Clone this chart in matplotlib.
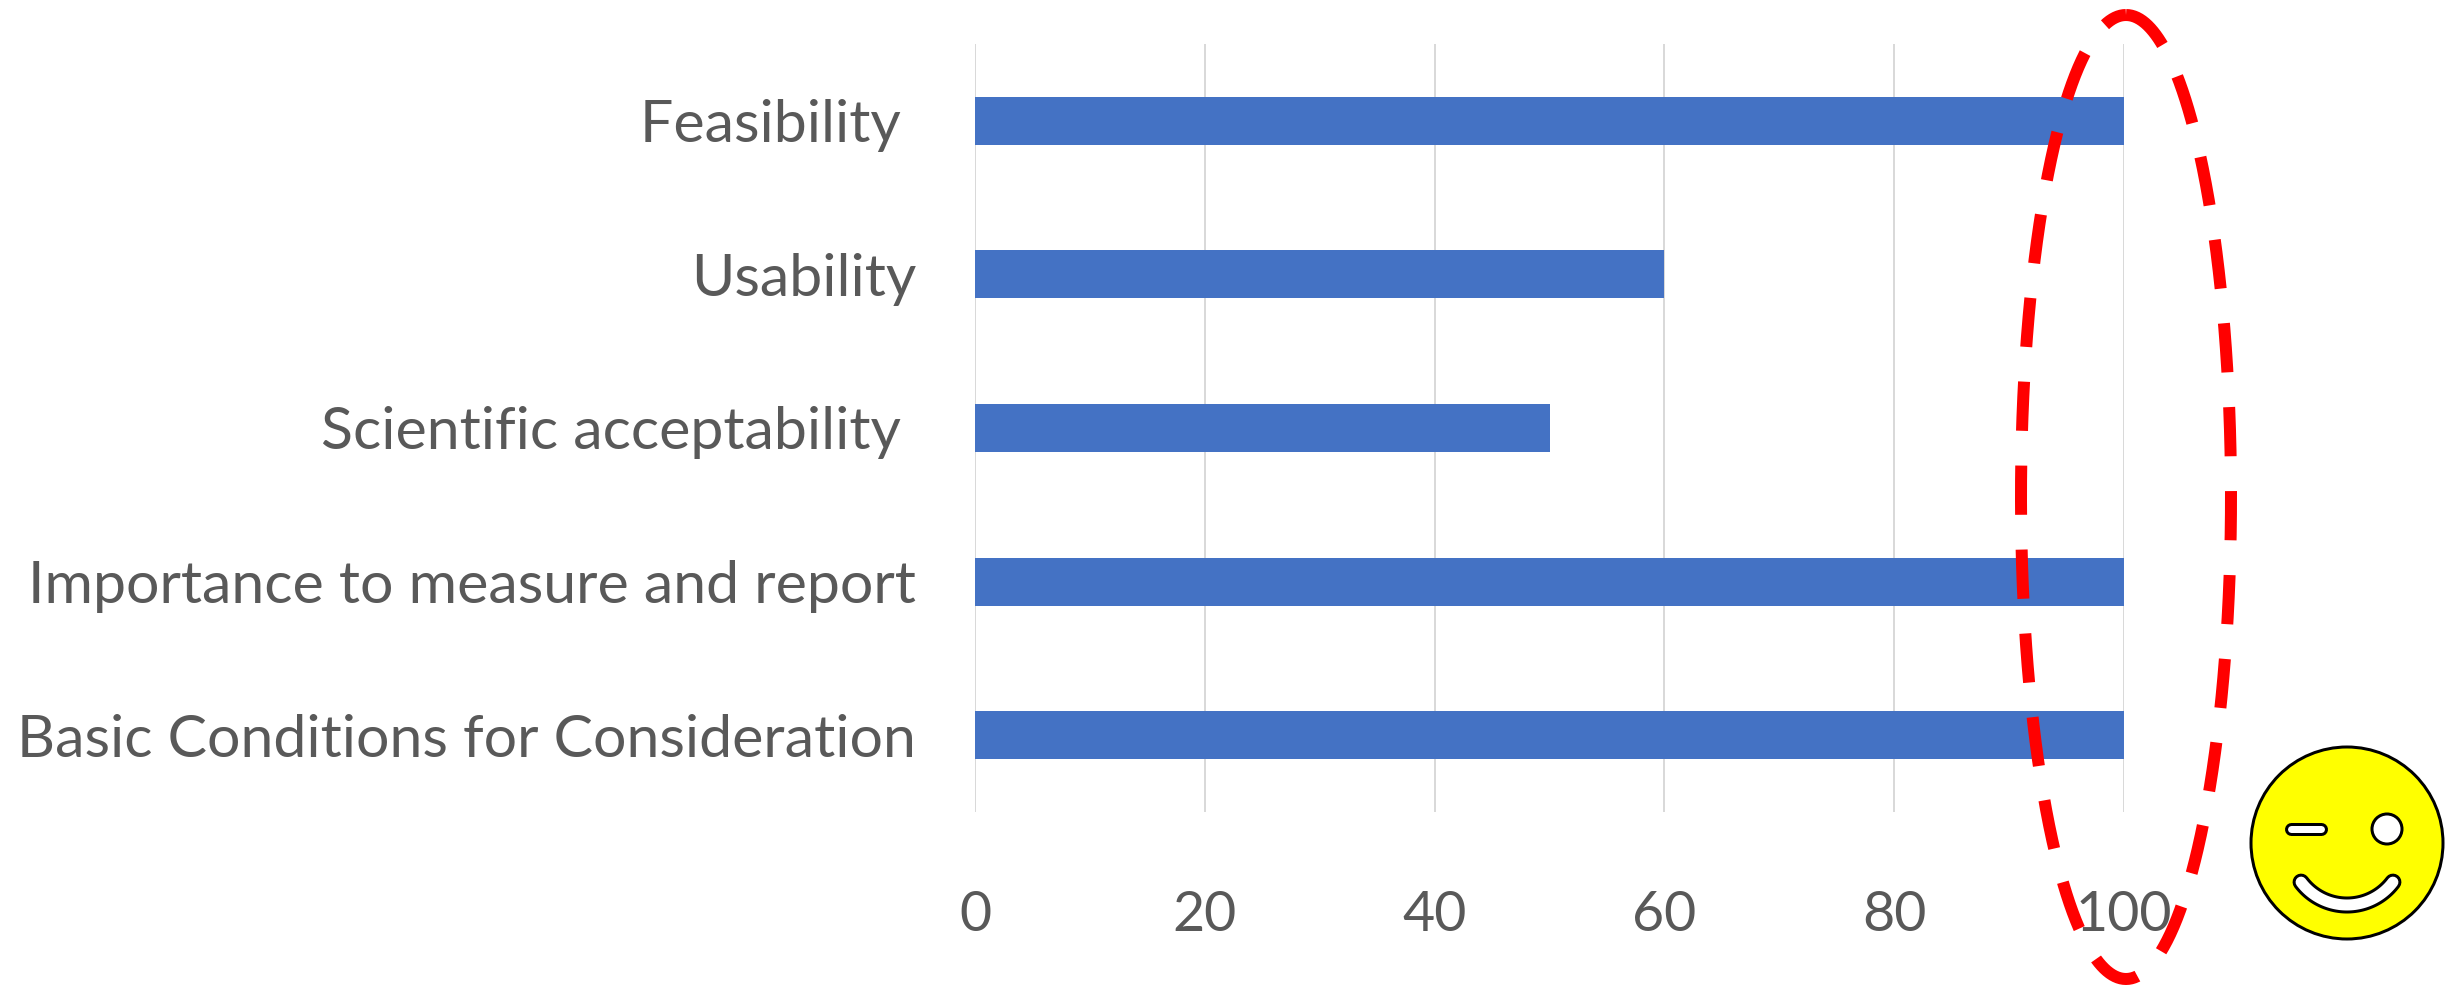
import matplotlib
matplotlib.use("Agg")
import matplotlib.pyplot as plt
from matplotlib.patches import Circle
import numpy as np

plt.rcParams["font.family"] = ["Lato", "DejaVu Sans"]

W, H = 2451, 989
GREY = "#595959"
PX = 72 / 100  # one pixel in points at dpi=100

categories = ["Basic Conditions for Consideration", "Importance to measure and report",
              "Scientific acceptability ", "Usability", "Feasibility "]
scores = [100, 100, 50, 60, 100]
x_ticks = [0, 20, 40, 60, 80, 100]

fig = plt.figure(figsize=(W / 100, H / 100), dpi=100, facecolor="white")
ax = fig.add_axes([975 / W, 1 - 812 / H, (2124 - 975) / W, (812 - 44) / H])

y = np.arange(len(categories))
ax.barh(y, scores, height=0.313, color="#4472C4", zorder=3)
ax.set_xlim(0, 100)
ax.set_ylim(-0.5, len(categories) - 0.5)
ax.set_yticks(y)
ax.set_yticklabels(categories, fontsize=42.5, color=GREY)
ax.set_xticks(x_ticks)
ax.tick_params(axis="x", length=0, labelsize=40, labelcolor=GREY, pad=78 * PX)
ax.tick_params(axis="y", length=0, pad=59 * PX)
ax.grid(axis="x", color="#D9D9D9", lw=2 * PX, zorder=0)
ax.set_axisbelow(True)
for s in ax.spines.values():
    s.set_visible(False)

# overlay in pixel coordinates for the hand-drawn ellipse and the smiley
ov = fig.add_axes([0, 0, 1, 1], facecolor="none")
ov.set_xlim(0, W)
ov.set_ylim(H, 0)
ov.axis("off")

# dashed ellipse, drawn clockwise from its top point
t = np.linspace(0, 2 * np.pi, 721)
ov.plot(2126 + 105 * np.sin(t), 497 - 482 * np.cos(t), color="#FF0000", lw=12 * PX,
        ls=(0, (4.1, 2.9)), dash_capstyle="butt", zorder=5)

# smiley
ov.add_patch(Circle((2347, 843), 96, facecolor="#FFFF00", edgecolor="black", lw=3 * PX, zorder=6))
ov.add_patch(Circle((2387, 829), 15, facecolor="white", edgecolor="black", lw=3 * PX, zorder=7))
for color, width in (("black", 13), ("white", 7)):
    ov.plot([2291, 2321], [828.5, 828.5], color=color, lw=width * PX,
            solid_capstyle="round", zorder=7)
a = np.linspace(-np.radians(53), np.radians(53), 60)
for color, width in (("black", 17), ("white", 11)):
    ov.plot(2347 + 57.5 * np.sin(a), 847.5 + 57.5 * np.cos(a), color=color, lw=width * PX,
            solid_capstyle="round", zorder=7)

fig.savefig("out.png", dpi=100, facecolor="white")
